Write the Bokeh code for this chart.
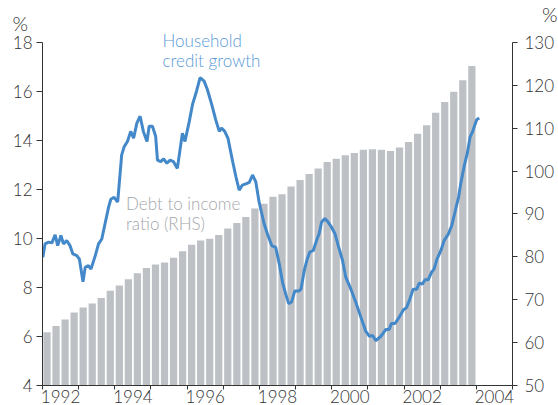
from bokeh.plotting import figure
from bokeh.models import Range1d, LinearAxis, FixedTicker, Label, Title, ColumnDataSource
from bokeh.embed import file_html
from bokeh.resources import INLINE

# ---- data ----
quarters = [f"{y}-Q{q}" for y in range(1992, 2004) for q in range(1, 5)]
debt_to_income = [62.4, 63.9, 65.4, 67.0, 68.2, 69.1, 70.4, 72.1, 73.3, 74.8, 76.2, 77.4,
                  78.2, 78.7, 79.8, 81.3, 82.8, 83.8, 84.2, 85.1, 86.6, 87.9, 89.3, 91.3,
                  92.4, 94.0, 94.6, 96.4, 97.9, 99.3, 100.6, 102.1, 102.9, 103.7, 104.2, 105.0,
                  105.1, 105.0, 104.7, 105.5, 106.8, 108.7, 110.7, 113.6, 116.1, 118.5, 121.2, 124.5]

growth_dates = [1992.01, 1992.07, 1992.17, 1992.26, 1992.35, 1992.42, 1992.51, 1992.58, 1992.67, 1992.76,
                1992.84, 1992.95, 1993.02, 1993.12, 1993.18, 1993.27, 1993.34, 1993.46, 1993.55, 1993.64,
                1993.73, 1993.83, 1993.89, 1993.98, 1994.08, 1994.19, 1994.26, 1994.35, 1994.44, 1994.52,
                1994.61, 1994.70, 1994.79, 1994.89, 1994.95, 1995.04, 1995.13, 1995.18, 1995.27, 1995.35,
                1995.44, 1995.53, 1995.62, 1995.73, 1995.87, 1995.94, 1996.06, 1996.15, 1996.26, 1996.36,
                1996.47, 1996.56, 1996.68, 1996.79, 1996.89, 1996.95, 1997.04, 1997.13, 1997.26, 1997.35,
                1997.44, 1997.53, 1997.64, 1997.72, 1997.81, 1997.90, 1997.99, 1998.13, 1998.22, 1998.34,
                1998.45, 1998.55, 1998.64, 1998.73, 1998.81, 1998.89, 1998.98, 1999.10, 1999.15, 1999.24,
                1999.31, 1999.39, 1999.49, 1999.58, 1999.65, 1999.72, 1999.81, 1999.90, 1999.99, 2000.09,
                2000.18, 2000.30, 2000.39, 2000.53, 2000.67, 2000.81, 2000.94, 2001.04, 2001.13, 2001.22,
                2001.36, 2001.50, 2001.59, 2001.65, 2001.75, 2001.86, 2001.98, 2002.07, 2002.16, 2002.25,
                2002.35, 2002.42, 2002.51, 2002.58, 2002.67, 2002.76, 2002.83, 2002.91, 2003.02, 2003.11,
                2003.23, 2003.32, 2003.41, 2003.51, 2003.57, 2003.66, 2003.75, 2003.83, 2003.90, 2003.96,
                2004.01, 2004.08]
growth = [9.23, 9.78, 9.85, 9.82, 10.15, 9.71, 10.12, 9.78, 9.92, 9.71,
          9.37, 9.30, 9.16, 8.23, 8.82, 8.89, 8.75, 9.30, 9.78, 9.98,
          10.60, 11.29, 11.60, 11.68, 11.49, 13.41, 13.75, 13.96, 14.37, 14.09,
          14.71, 14.99, 14.37, 13.96, 14.58, 14.58, 14.17, 13.20, 13.14, 13.25,
          13.07, 13.20, 13.14, 12.86, 14.30, 13.96, 14.78, 15.47, 16.01, 16.56,
          16.42, 16.08, 15.47, 14.85, 14.37, 14.51, 14.37, 14.09, 13.14, 12.52,
          11.97, 12.18, 12.24, 12.29, 12.59, 12.31, 11.50, 10.60, 10.19, 9.71,
          9.64, 8.96, 8.20, 7.72, 7.34, 7.41, 7.86, 7.86, 7.93, 8.69,
          9.10, 9.44, 9.51, 9.92, 10.19, 10.67, 10.81, 10.67, 10.47, 10.19,
          9.71, 9.10, 8.41, 7.93, 7.38, 6.77, 6.22, 6.01, 6.04, 5.83,
          6.01, 6.29, 6.29, 6.53, 6.53, 6.77, 7.08, 7.18, 7.52, 7.93,
          7.93, 8.18, 8.14, 8.32, 8.32, 8.62, 8.75, 9.16, 9.51, 9.92,
          10.19, 10.53, 11.08, 11.70, 12.24, 12.93, 13.48, 14.16, 14.37, 14.64,
          14.85, 14.92]

year_labels = ["1992", "1994", "1996", "1998", "2000", "2002", "2004"]
left_ticks = [4, 6, 8, 10, 12, 14, 16, 18]
right_ticks = [50, 60, 70, 80, 90, 100, 110, 120, 130]

# ---- styling ----
FONT = "Lato Light"
TXT = "#333333"
BAR = "#bdc1c6"
LINE = "#4388c9"
BLUE_TXT = "#5a9ad6"
GREY_TXT = "#a3a7ab"

bar_x = [int(q[:4]) + (int(q[-1]) - 1) * 0.25 + 0.125 for q in quarters]
bars = ColumnDataSource(dict(x=bar_x, top=debt_to_income))
line = ColumnDataSource(dict(x=growth_dates, y=growth))

# frame reaches above the top tick so that the in-chart labels fit; axes are bounded
p = figure(width=558, height=405, output_backend="svg", toolbar_location=None,
           x_range=Range1d(1992, 2005), y_range=Range1d(4, 18.814),
           min_border_left=42, min_border_right=46, min_border_top=22, min_border_bottom=4)
p.extra_y_ranges = {"rhs": Range1d(50, 134.65)}
p.outline_line_color = None
p.xgrid.visible = False
p.ygrid.visible = False
p.background_fill_color = "white"

p.vbar(x="x", top="top", bottom=50, width=0.2, source=bars, y_range_name="rhs",
       fill_color=BAR, line_color=None)
p.line(x="x", y="y", source=line, line_color=LINE, line_width=3)

# x axis
xa = p.xaxis[0]
mids = [int(y) + 0.5 for y in year_labels]
xa.ticker = FixedTicker(ticks=mids, minor_ticks=list(range(1992, 2006)))
xa.major_label_overrides = {m: lab for m, lab in zip(mids, year_labels)}
xa.major_tick_out = 0
xa.major_tick_in = 0
xa.minor_tick_out = 4
xa.minor_tick_in = 0
xa.major_label_standoff = 0

# left axis
ya = p.yaxis[0]
ya.ticker = FixedTicker(ticks=left_ticks)
ya.bounds = (4, 18)
ya.major_tick_out = 6
ya.major_tick_in = 0
ya.major_label_standoff = 4

# right axis
ra = LinearAxis(y_range_name="rhs", ticker=FixedTicker(ticks=right_ticks), bounds=(50, 130))
ra.major_tick_out = 5
ra.major_tick_in = 0
ra.major_label_standoff = 7
p.add_layout(ra, "right")

for ax in (xa, ya, ra):
    ax.axis_line_color = TXT
    ax.major_tick_line_color = TXT
    ax.minor_tick_line_color = TXT if ax is xa else None
    ax.major_label_text_color = TXT
    ax.major_label_text_font = FONT
    ax.major_label_text_font_size = "17px"

# unit markers ("%") above both axes
def unit_title(align, offset, standoff):
    t = Title(text="%", align=align, offset=offset, vertical_align="bottom",
              text_font=FONT, text_font_size="20px", text_font_style="normal", text_color=TXT)
    try:
        t.standoff = standoff
    except Exception:
        t.standoff = 0
    p.add_layout(t, "above")

unit_title("left", -30, -25)
unit_title("right", -45, -8)

def lab(x, y, text, color):
    p.add_layout(Label(x=x, y=y, text=text, text_color=color, text_font=FONT,
                       text_font_size="17px", text_align="left", text_baseline="alphabetic"))

lab(1995.32, 18.078, "Household", BLUE_TXT)
lab(1995.32, 17.277, "credit growth", BLUE_TXT)
lab(1994.31, 11.428, "Debt to income", GREY_TXT)
lab(1994.31, 10.615, "ratio (RHS)", GREY_TXT)

open("out.html", "w").write(file_html(p, INLINE))
